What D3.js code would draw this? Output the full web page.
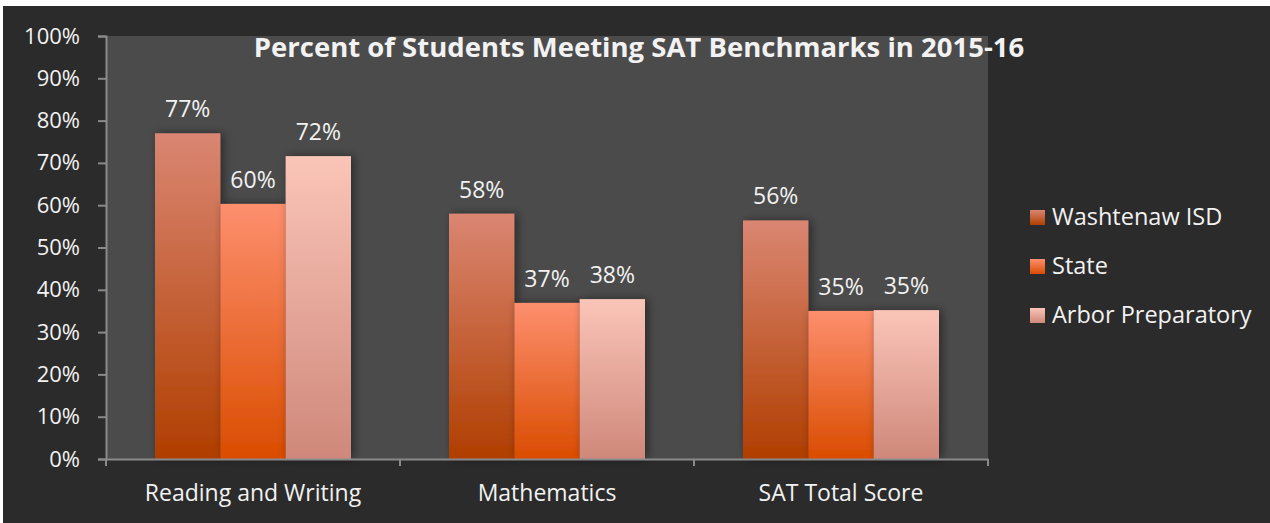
<!DOCTYPE html>
<html>
<head>
<meta charset="utf-8">
<script src="https://cdn.jsdelivr.net/npm/d3@7"></script>
<style>
  body { margin: 0; background: #ffffff; }
  text { font-family: "Open Sans", sans-serif; fill: #f2f2f2; }
</style>
</head>
<body>
<div id="chart"></div>
<script>
// data
var categories = ["Reading and Writing", "Mathematics", "SAT Total Score"];
var series = ["Washtenaw ISD", "State", "Arbor Preparatory"];
var washtenaw = [77, 58, 56.4];
var state = [60.3, 36.9, 35];
var arbor = [71.6, 37.8, 35.2];
var yTicks = [0, 10, 20, 30, 40, 50, 60, 70, 80, 90, 100];

var values = [washtenaw, state, arbor];
var gradColors = [
  ["#da8672", "#b03e00"],
  ["#fd8f6e", "#da4c00"],
  ["#fac5b8", "#cf887a"]
];

var width = 1270, height = 523;
var plot = {left: 106, right: 988, top: 36, bottom: 459};

var svg = d3.select("#chart").append("svg")
  .attr("width", width)
  .attr("height", height);

var defs = svg.append("defs");
gradColors.forEach(function (c, i) {
  var g = defs.append("linearGradient")
    .attr("id", "grad" + i)
    .attr("x1", 0).attr("y1", 0).attr("x2", 0).attr("y2", 1);
  g.append("stop").attr("offset", "0%").attr("stop-color", c[0]);
  g.append("stop").attr("offset", "100%").attr("stop-color", c[1]);
});

var shadow = defs.append("filter").attr("id", "shadow")
  .attr("x", "-30%").attr("y", "-10%").attr("width", "160%").attr("height", "120%");
shadow.append("feDropShadow")
  .attr("dx", 3).attr("dy", 0).attr("stdDeviation", 5)
  .attr("flood-color", "#000").attr("flood-opacity", 0.45);

// background
svg.append("rect").attr("x", 3).attr("y", 6)
  .attr("width", width - 3).attr("height", height - 6)
  .attr("fill", "#2b2b2b");

svg.append("rect")
  .attr("x", plot.left).attr("y", plot.top)
  .attr("width", plot.right - plot.left).attr("height", plot.bottom - plot.top)
  .attr("fill", "#4b4b4b");

var x0 = d3.scaleBand().domain(categories).range([plot.left, plot.right]);
var x1 = d3.scaleBand().domain(series).range([0, x0.bandwidth()])
  .paddingInner(0).paddingOuter(0.75);
var y = d3.scaleLinear().domain([0, 100]).range([plot.bottom, plot.top]);

// bars
var groups = svg.append("g").selectAll("g")
  .data(series)
  .enter().append("g");

groups.each(function (s, si) {
  d3.select(this).selectAll("rect")
    .data(values[si])
    .enter().append("rect")
    .attr("x", function (d, i) { return x0(categories[i]) + x1(s); })
    .attr("y", function (d) { return y(d); })
    .attr("width", x1.bandwidth())
    .attr("height", function (d) { return y(0) - y(d); })
    .attr("fill", "url(#grad" + si + ")")
    .attr("filter", "url(#shadow)");
});

// value labels
groups.each(function (s, si) {
  d3.select(this).selectAll("text")
    .data(values[si])
    .enter().append("text")
    .attr("x", function (d, i) { return x0(categories[i]) + x1(s) + x1.bandwidth() / 2; })
    .attr("y", function (d) { return y(d) - 16; })
    .attr("text-anchor", "middle")
    .style("font-size", "23px")
    .text(function (d) { return Math.round(d) + "%"; });
});

// y axis
var yAxis = d3.axisLeft(y).tickValues(yTicks)
  .tickFormat(function (d) { return d + "%"; })
  .tickSize(8).tickPadding(18);
var ya = svg.append("g")
  .attr("transform", "translate(" + plot.left + ",0)")
  .call(yAxis);
ya.select(".domain").attr("stroke", "#8a8a8a").attr("stroke-width", 2);
ya.selectAll(".tick line").attr("stroke", "#8a8a8a").attr("stroke-width", 2);
ya.selectAll(".tick text").style("font-size", "22px").attr("fill", "#f2f2f2")
  .style("font-family", "'Open Sans', sans-serif");

// x axis
var xAxis = d3.axisBottom(x0).tickSize(0).tickPadding(26);
var xa = svg.append("g")
  .attr("transform", "translate(0," + plot.bottom + ")")
  .call(xAxis);
xa.select(".domain").attr("stroke", "#8a8a8a").attr("stroke-width", 2);
xa.selectAll(".tick text").style("font-size", "23px").attr("fill", "#f2f2f2")
  .style("font-family", "'Open Sans', sans-serif");

// category boundary ticks
var bounds = categories.map(function (c) { return x0(c); }).concat([plot.right]);
xa.selectAll("line.bound")
  .data(bounds)
  .enter().append("line")
  .attr("class", "bound")
  .attr("x1", function (d) { return d; })
  .attr("x2", function (d) { return d; })
  .attr("y1", 0).attr("y2", 7)
  .attr("stroke", "#8a8a8a").attr("stroke-width", 2);

// title
svg.append("text")
  .attr("x", 639).attr("y", 57)
  .attr("text-anchor", "middle")
  .style("font-size", "27.5px")
  .style("font-weight", "bold")
  .attr("fill", "#ffffff")
  .text("Percent of Students Meeting SAT Benchmarks in 2015-16");

// legend
var legend = svg.append("g").selectAll("g")
  .data(series)
  .enter().append("g")
  .attr("transform", function (d, i) { return "translate(1030," + (210 + i * 49) + ")"; });

legend.append("rect")
  .attr("width", 15).attr("height", 15)
  .attr("fill", function (d, i) { return "url(#grad" + i + ")"; });

legend.append("text")
  .attr("x", 22).attr("y", 15)
  .style("font-size", "23.5px")
  .text(function (d) { return d; });
</script>
</body>
</html>
